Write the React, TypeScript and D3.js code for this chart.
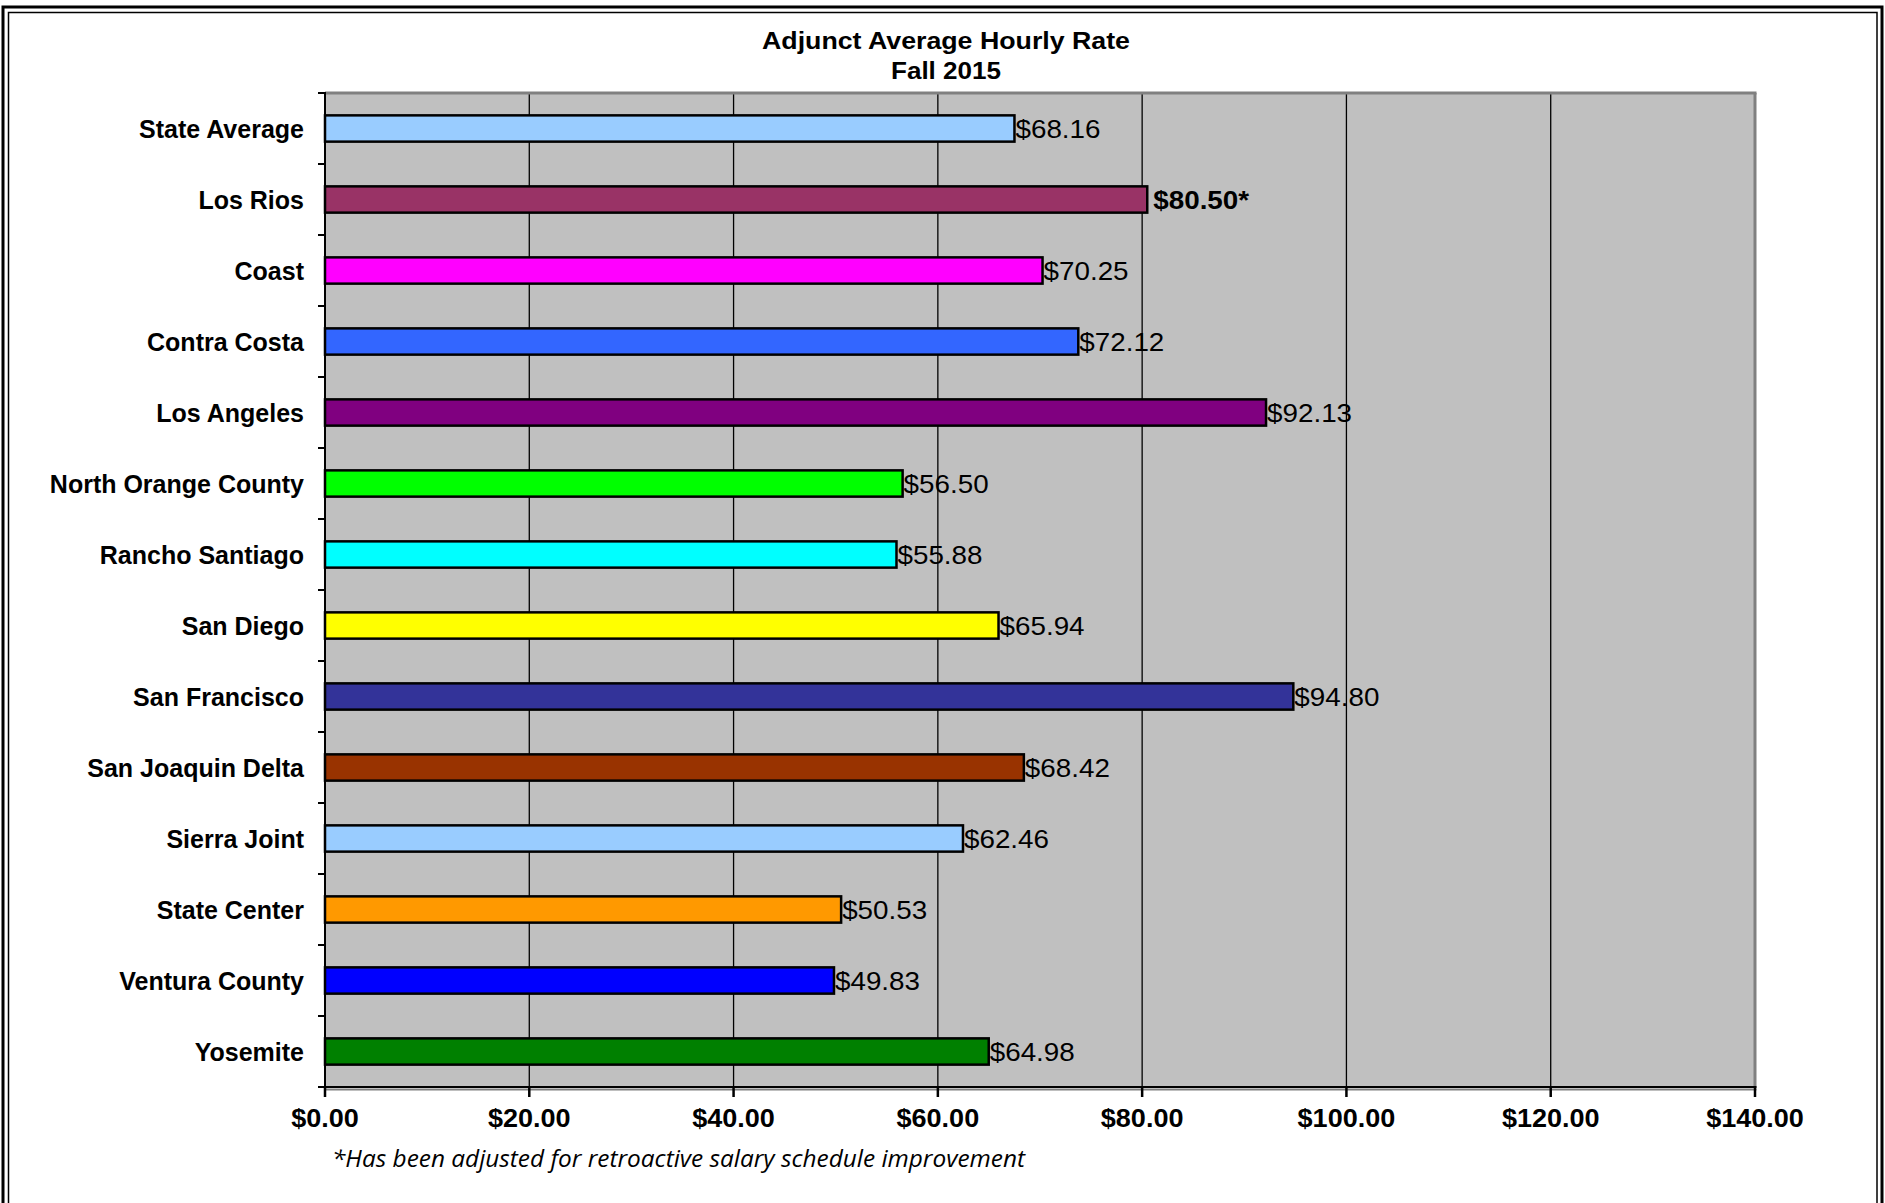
import React from "react";
import * as d3 from "d3";

const categories = [
  "State Average",
  "Los Rios",
  "Coast",
  "Contra Costa",
  "Los Angeles",
  "North Orange County",
  "Rancho Santiago",
  "San Diego",
  "San Francisco",
  "San Joaquin Delta",
  "Sierra Joint",
  "State Center",
  "Ventura County",
  "Yosemite",
];

// bar lengths as drawn in the picture
const barValues = [67.5, 80.5, 70.25, 73.75, 92.13, 56.55, 55.95, 65.94, 94.8, 68.42, 62.46, 50.53, 49.83, 64.98];

// printed data labels
const valueLabels = ["$68.16", "$80.50*", "$70.25", "$72.12", "$92.13", "$56.50", "$55.88", "$65.94", "$94.80", "$68.42", "$62.46", "$50.53", "$49.83", "$64.98"];

const boldLabel = [false, true, false, false, false, false, false, false, false, false, false, false, false, false];

const barColors = [
  "#99CCFF", "#993366", "#FF00FF", "#3366FF", "#800080", "#00FF00", "#00FFFF",
  "#FFFF00", "#333399", "#993300", "#99CCFF", "#FF9900", "#0000FF", "#008000",
];

const xTicks = [0, 20, 40, 60, 80, 100, 120, 140];

const titleLines = ["Adjunct Average Hourly Rate", "Fall 2015"];
const footnote = "*Has been adjusted for retroactive salary schedule improvement";

const W = 1885;
const H = 1203;
const plot = { left: 325, right: 1755, top: 93, bottom: 1087 };
const font = "'Liberation Sans', Arial, sans-serif";

export default function App() {
  const x = d3.scaleLinear().domain([0, 140]).range([plot.left, plot.right]);
  const y = d3
    .scaleBand<string>()
    .domain(categories)
    .range([plot.top, plot.bottom])
    .paddingInner(0.63)
    .paddingOuter(0.315);
  const band = (plot.bottom - plot.top) / categories.length;
  const edges = d3.range(categories.length + 1).map((i) => plot.top + i * band);

  return (
    <svg
      width={W}
      height={H}
      style={{ position: "absolute", left: 0, top: 0, background: "#fff" }}
    >
      {/* outer double border */}
      <rect x={3} y={7} width={1879} height={1230} fill="none" stroke="#000" strokeWidth={3} />
      <rect x={8.5} y={12.5} width={1868.5} height={1220} fill="none" stroke="#000" strokeWidth={1.5} />

      {/* title */}
      <text x={946} y={40} textAnchor="middle" dominantBaseline="central" fontFamily={font} fontWeight="bold" fontSize={24} textLength={368} lengthAdjust="spacingAndGlyphs">
        {titleLines[0]}
      </text>
      <text x={946} y={70} textAnchor="middle" dominantBaseline="central" fontFamily={font} fontWeight="bold" fontSize={24} textLength={110} lengthAdjust="spacingAndGlyphs">
        {titleLines[1]}
      </text>

      {/* plot background */}
      <rect x={plot.left} y={plot.top} width={plot.right - plot.left} height={plot.bottom - plot.top} fill="#C0C0C0" />

      {/* gridlines */}
      {xTicks.slice(1, -1).map((t) => (
        <line key={"g" + t} x1={x(t)} x2={x(t)} y1={plot.top} y2={plot.bottom} stroke="#000" strokeWidth={1.3} />
      ))}

      {/* plot frame: gray top and right */}
      <line x1={plot.left} x2={plot.right + 1.5} y1={plot.top} y2={plot.top} stroke="#808080" strokeWidth={3} />
      <line x1={plot.right} x2={plot.right} y1={plot.top} y2={plot.bottom} stroke="#808080" strokeWidth={3} />
      <line x1={plot.left} x2={plot.right + 1.5} y1={plot.bottom + 2.5} y2={plot.bottom + 2.5} stroke="#808080" strokeWidth={2} />

      {/* bars */}
      {categories.map((c, i) => (
        <rect
          key={c}
          x={x(0)}
          y={y(c)!}
          width={x(barValues[i]) - x(0)}
          height={y.bandwidth()}
          fill={barColors[i]}
          stroke="#000"
          strokeWidth={2.5}
        />
      ))}

      {/* value labels */}
      {categories.map((c, i) => {
        const lx = x(barValues[i]) + (boldLabel[i] ? 6 : 1);
        const ly = y(c)! + y.bandwidth() / 2 + 1;
        return (
          <text
            key={"v" + c}
            transform={`translate(${lx},${ly}) scale(1.07,1)`}
            dominantBaseline="central"
            fontFamily={font}
            fontWeight={boldLabel[i] ? "bold" : "normal"}
            fontSize={26}
            fill="#000"
          >
            {valueLabels[i]}
          </text>
        );
      })}

      {/* axes */}
      <line x1={plot.left} x2={plot.left} y1={plot.top - 1} y2={plot.bottom + 1} stroke="#000" strokeWidth={2} />
      <line x1={plot.left} x2={plot.right + 1.5} y1={plot.bottom} y2={plot.bottom} stroke="#000" strokeWidth={2} />
      {edges.map((e, i) => (
        <line key={"yt" + i} x1={plot.left - 7} x2={plot.left} y1={e} y2={e} stroke="#000" strokeWidth={2} />
      ))}
      {xTicks.map((t) => (
        <line key={"xt" + t} x1={x(t)} x2={x(t)} y1={plot.bottom} y2={plot.bottom + 10} stroke="#000" strokeWidth={2.5} />
      ))}

      {/* category labels */}
      {categories.map((c) => (
        <text
          key={"c" + c}
          x={304}
          y={y(c)! + y.bandwidth() / 2}
          textAnchor="end"
          dominantBaseline="central"
          fontFamily={font}
          fontWeight="bold"
          fontSize={25}
          fill="#000"
        >
          {c}
        </text>
      ))}

      {/* x tick labels */}
      {xTicks.map((t) => (
        <text
          key={"xl" + t}
          transform={`translate(${x(t)},1118) scale(1.06,1)`}
          textAnchor="middle"
          dominantBaseline="central"
          fontFamily={font}
          fontWeight="bold"
          fontSize={25.5}
          fill="#000"
        >
          {d3.format("$.2f")(t)}
        </text>
      ))}

      {/* footnote */}
      <text
        x={332}
        y={1157}
        dominantBaseline="central"
        fontFamily="'Liberation Sans Narrow', 'Open Sans', sans-serif"
        fontStyle="italic"
        fontSize={24}
        textLength={693}
        lengthAdjust="spacingAndGlyphs"
        fill="#000"
      >
        {footnote}
      </text>
    </svg>
  );
}
